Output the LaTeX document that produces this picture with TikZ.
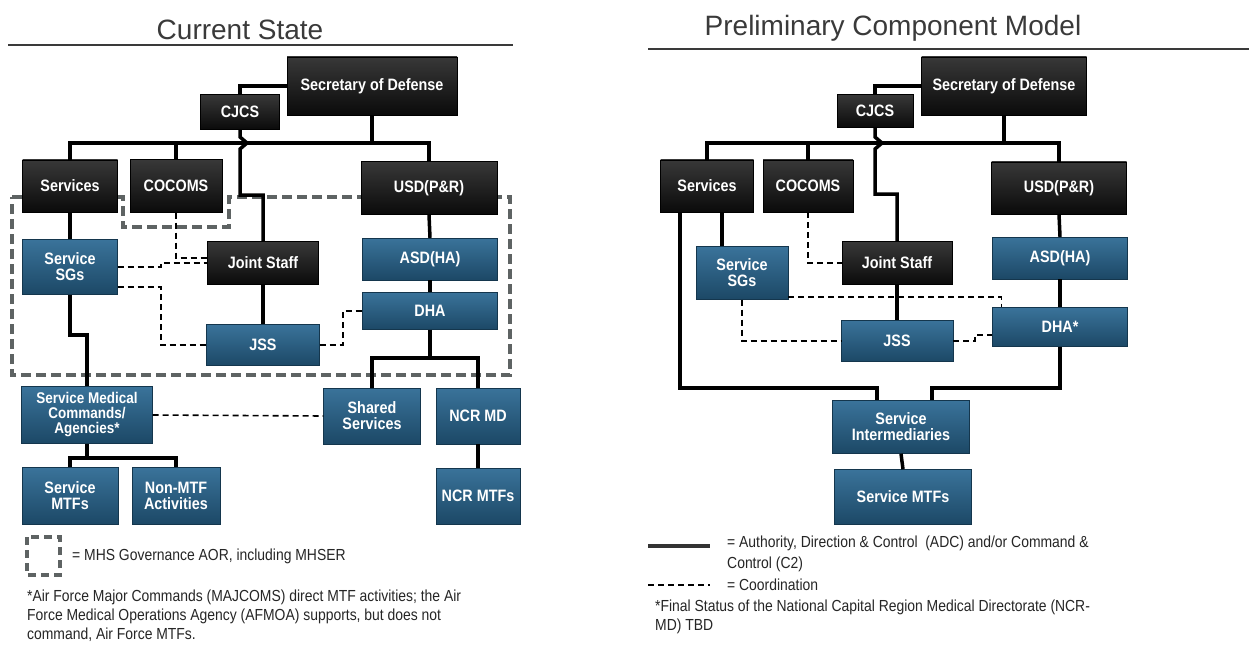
\documentclass[tikz,border=0pt]{standalone}
\usepackage{fontspec}
\setmainfont{Liberation Sans}
\newfontfamily\narrowfont[FakeStretch=0.87]{Liberation Sans}
\definecolor{bluetop}{HTML}{3A739A}
\definecolor{bluebot}{HTML}{1C4866}
\definecolor{blueedge}{HTML}{14364D}
\definecolor{blacktop}{HTML}{383838}
\definecolor{aorgrey}{HTML}{5E6363}
\definecolor{titlegrey}{HTML}{3A3A3A}

\begin{document}
\begin{tikzpicture}[x=1pt,y=-1pt]

\tikzset{blackbox/.style = {shape=rectangle,draw=black,top color=blacktop,bottom color=black!96,text=white,
  font=\narrowfont\fontsize{16.5}{16}\selectfont\bfseries,align=center,inner sep=1pt}}
\tikzset{bluebox/.style = {blackbox,draw=blueedge,top color=bluetop,bottom color=bluebot}}
\tikzset{wh/.style 2 args = {minimum width=#1pt,minimum height=#2pt}}
\tikzset{adc/.style = {line width=3.5pt}}
\tikzset{coordline/.style = {line width=1.6pt,dash pattern=on 6pt off 4pt}}
\tikzset{aor/.style = {aorgrey,line width=3.2pt,dash pattern=on 10pt off 5pt}}
\tikzset{title/.style = {anchor=base,text=titlegrey,font=\fontsize{28}{30}\selectfont}}
\tikzset{note/.style = {anchor=north west,align=left,text=black!85,font=\narrowfont\fontsize{16}{19}\selectfont,inner sep=0pt}}

\fill[white] (0,0) rectangle (1249,647);
\useasboundingbox (0,0) rectangle (1249,647);

%titles
\node[title] (ltitle) at (240,40) {Current State};
\node[title] (rtitle) at (893,36) {Preliminary Component Model};
\draw[titlegrey,line width=2pt] (8,45) -- (513,45);
\draw[titlegrey,line width=2pt] (648,49) -- (1249,49);

%governance area
\draw[aor] (12,197) -- (123,197) -- (123,227) -- (229,227) -- (229,197) -- (510,197)
  -- (510,375) -- (12,375) -- cycle;

%current state boxes
\node[blackbox, wh={170}{58}] (lsec) at (372,86) {Secretary of Defense};
\node[blackbox, wh={79}{35}] (lcjcs) at (240,112) {CJCS};
\node[blackbox, wh={95}{52}] (lserv) at (70,186) {Services};
\node[blackbox, wh={92}{53}] (lcoc) at (176,186) {COCOMS};
\node[blackbox, wh={136}{53}] (lusd) at (429,188) {USD(P\&R)};
\node[bluebox, wh={95}{55}] (lsgs) at (70,267) {Service\\SGs};
\node[blackbox, wh={111}{43}] (ljs) at (263,263) {Joint Staff};
\node[bluebox, wh={135}{42}] (lasd) at (430,259) {ASD(HA)};
\node[bluebox, wh={135}{37}] (ldha) at (430,311) {DHA};
\node[bluebox, wh={113}{41}] (ljss) at (263,345) {JSS};
\node[bluebox, wh={131}{57}, font=\narrowfont\fontsize{15.5}{15}\selectfont\bfseries] (lsmc) at (87,415) {Service Medical\\Commands/\\Agencies*};
\node[bluebox, wh={97}{56}] (lshr) at (372,416) {Shared\\Services};
\node[bluebox, wh={84}{56}] (lncr) at (478,416) {NCR MD};
\node[bluebox, wh={96}{57}] (lmtf) at (70,496) {Service\\MTFs};
\node[bluebox, wh={88}{57}] (lnon) at (176,496) {Non-MTF\\Activities};
\node[bluebox, wh={84}{56}] (lnmtf) at (478,496) {NCR MTFs};

\coordinate (lbus) at (0,143);
\coordinate (lstep) at (0,195);
\coordinate (lsgstep) at (0,335);
\coordinate (lfork) at (0,358);
\coordinate (lfork2) at (0,458);
\coordinate (ljump) at (lcjcs.south |- lbus);

%current state command lines
\draw[adc] (lcjcs.north) |- (lsec.west);
\draw[adc] (lserv.north) -- (lserv.north |- lbus) -- (lusd.north |- lbus) -- (lusd.north);
\draw[adc] (lcoc.north) -- (lcoc.north |- lbus);
\draw[adc] (lsec.south) -- (lsec.south |- lbus);
\draw[adc] (lcjcs.south) -- ([yshift=6pt]ljump) -- ([xshift=7pt]ljump) -- ([yshift=-6pt]ljump)
  -- (ljump |- lstep) -| (ljs.north);
\draw[adc] (lserv.south) -- (lsgs.north);
\draw[adc] (lsgs.south) -- (lsgs.south |- lsgstep) -| (lsmc.north);
\draw[adc] (ljs.south) -- (ljss.north);
\draw[adc] (lusd.south) -- (lasd.north);
\draw[adc] (lasd.south) -- (ldha.north);
\draw[adc] (ldha.south) -- (ldha.south |- lfork);
\draw[adc] (lshr.north) -- (lshr.north |- lfork) -- (lncr.north |- lfork) -- (lncr.north);
\draw[adc] (lncr.south) -- (lnmtf.north);
\draw[adc] (lsmc.south) -- (lsmc.south |- lfork2);
\draw[adc] (lmtf.north) -- (lmtf.north |- lfork2) -- (lnon.north |- lfork2) -- (lnon.north);

%current state coordination
\draw[coordline] (lcoc.south) |- ([yshift=5pt]ljs.west);
\draw[coordline] (lsgs.east) -- ++(43,0) |- (ljs.west);
\draw[coordline] ([yshift=-20pt]lsgs.east) -- ++(43,0) |- (ljss.west);
\draw[coordline] (ljss.east) -- ++(23,0) |- (ldha.west);
\draw[coordline] (lsmc.east) -- (lshr.west);

%component model boxes
\node[blackbox, wh={165}{58}] (rsec) at (1004,86) {Secretary of Defense};
\node[blackbox, wh={76}{33}] (rcjcs) at (875,111) {CJCS};
\node[blackbox, wh={93}{52}] (rserv) at (707,186) {Services};
\node[blackbox, wh={90}{52}] (rcoc) at (808,186) {COCOMS};
\node[blackbox, wh={135}{52}] (rusd) at (1059,188) {USD(P\&R)};
\node[bluebox, wh={92}{53}] (rsgs) at (742,273) {Service\\SGs};
\node[blackbox, wh={110}{43}] (rjs) at (897,263) {Joint Staff};
\node[bluebox, wh={112}{41}] (rjss) at (897,341) {JSS};
\node[bluebox, wh={135}{42}] (rasd) at (1060,258) {ASD(HA)};
\node[bluebox, wh={135}{39}] (rdha) at (1060,327) {DHA*};
\node[bluebox, wh={137}{53}] (rint) at (901,427) {Service\\Intermediaries};
\node[bluebox, wh={137}{55}] (rmtf) at (903,497) {Service MTFs};

\coordinate (rbus) at (0,143);
\coordinate (rstep) at (0,194);
\coordinate (rlow) at (0,388);
\coordinate (rjump) at (rcjcs.south |- rbus);

%component model command lines
\draw[adc] (rcjcs.north) |- (rsec.west);
\draw[adc] (rserv.north) -- (rserv.north |- rbus) -- (rusd.north |- rbus) -- (rusd.north);
\draw[adc] (rcoc.north) -- (rcoc.north |- rbus);
\draw[adc] (rsec.south) -- (rsec.south |- rbus);
\draw[adc] (rcjcs.south) -- ([yshift=6pt]rjump) -- ([xshift=7pt]rjump) -- ([yshift=-6pt]rjump)
  -- (rjump |- rstep) -| (rjs.north);
\draw[adc] ([xshift=15pt]rserv.south) -- ([xshift=15pt]rserv.south |- rsgs.north);
\draw[adc] ([xshift=-27pt]rserv.south) -- ([xshift=-27pt]rserv.south |- rlow) -| ([xshift=-24pt]rint.north);
\draw[adc] (rdha.south) -- (rdha.south |- rlow) -| ([xshift=31pt]rint.north);
\draw[adc] (rjs.south) -- (rjss.north);
\draw[adc] (rusd.south) -- (rasd.north);
\draw[adc] (rasd.south) -- (rdha.north);
\draw[adc] (rint.south) -- (rmtf.north);

%component model coordination
\draw[coordline] (rcoc.south) |- (rjs.west);
\draw[coordline] ([yshift=3pt]rsgs.south east) -| ([xshift=9pt]rdha.north west);
\draw[coordline] (rsgs.south) |- (rjss.west);
\draw[coordline] (rjss.east) -- ++(22,0) |- ([yshift=-8pt]rdha.west);

%legends
\draw[aor,dash pattern=on 8pt off 5pt] (27,537) rectangle (60,575);
\node[note, anchor=west] (laor) at (72,556) {= MHS Governance AOR, including MHSER};
\node[note] (lnote) at (27,590) {*Air Force Major Commands (MAJCOMS) direct MTF activities; the Air\\
  Force Medical Operations Agency (AFMOA) supports, but does not\\command, Air Force MTFs.};
\coordinate (kadc1) at (648,546);
\coordinate (kadc2) at (710,546);
\coordinate (kco1) at (648,585);
\coordinate (kco2) at (710,585);
\draw[line width=4pt,black!80] (kadc1) -- (kadc2);
\draw[coordline,line width=1.4pt] (kco1) -- (kco2);
\node[note, font=\narrowfont\fontsize{16}{21}\selectfont] (radc) at (727,536) {= Authority, Direction \& Control\ \ (ADC) and/or Command \&\\Control (C2)};
\node[note, anchor=west] (rco) at (727,585) {= Coordination};
\node[note] (rnote) at (655,600) {*Final Status of the National Capital Region Medical Directorate (NCR-\\MD) TBD};

\end{tikzpicture}
\end{document}
